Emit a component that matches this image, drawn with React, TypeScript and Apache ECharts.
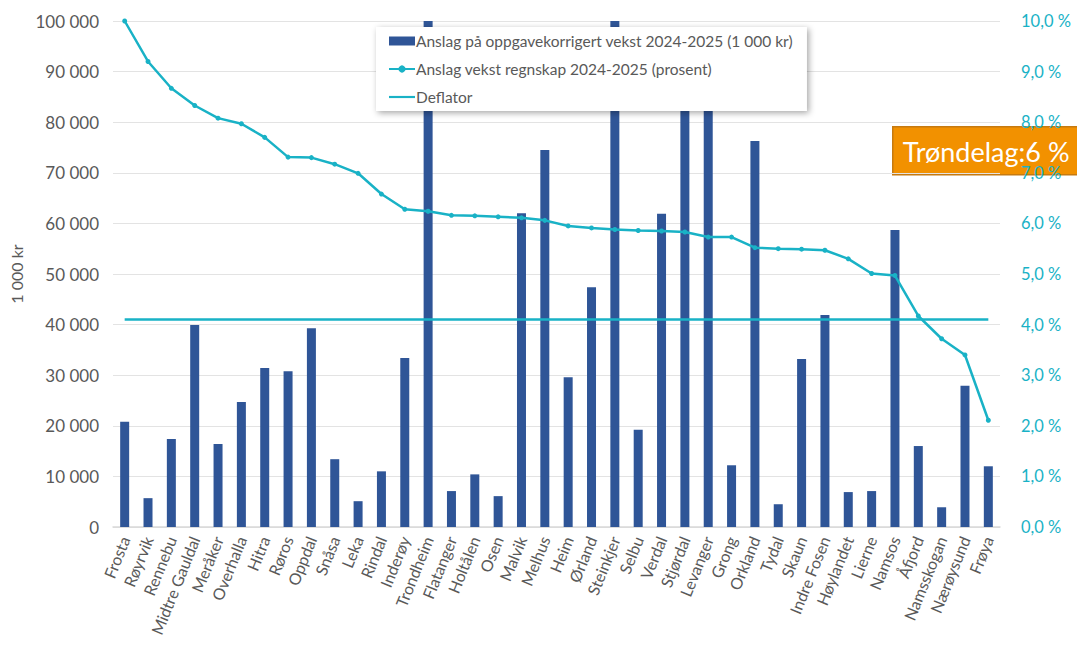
import React, { useEffect, useRef } from "react";
import * as echarts from "echarts";

const categories = [
  "Frosta", "Røyrvik", "Rennebu", "Midtre Gauldal", "Meråker", "Overhalla", "Hitra", "Røros",
  "Oppdal", "Snåsa", "Leka", "Rindal", "Inderøy", "Trondheim", "Flatanger", "Holtålen", "Osen",
  "Malvik", "Melhus", "Heim", "Ørland", "Steinkjer", "Selbu", "Verdal", "Stjørdal", "Levanger",
  "Grong", "Orkland", "Tydal", "Skaun", "Indre Fosen", "Høylandet", "Lierne", "Namsos", "Åfjord",
  "Namsskogan", "Nærøysund", "Frøya",
];

const barValues = [
  20800, 5700, 17400, 39900, 16400, 24700, 31400, 30800,
  39300, 13400, 5100, 11000, 33400, 400000, 7100, 10400, 6100,
  62000, 74500, 29600, 47400, 101000, 19200, 61900, 95000, 92000,
  12200, 76300, 4500, 33200, 41900, 6900, 7100, 58700, 16000,
  3900, 27900, 12000,
];

const growthPct = [
  10.0, 9.2, 8.67, 8.33, 8.08, 7.97, 7.7, 7.31,
  7.3, 7.17, 6.99, 6.58, 6.28, 6.24, 6.16, 6.15, 6.13,
  6.11, 6.06, 5.95, 5.91, 5.88, 5.86, 5.85, 5.83, 5.73,
  5.73, 5.52, 5.5, 5.49, 5.47, 5.3, 5.01, 4.97, 4.17,
  3.72, 3.4, 2.11,
];

const deflator = 4.1;
const seriesNames = [
  "Anslag på oppgavekorrigert vekst 2024-2025 (1 000 kr)",
  "Anslag vekst regnskap 2024-2025 (prosent)",
  "Deflator",
];
const regionLabel = "Trøndelag:6 %";

const FONT = "Lato, 'Open Sans', sans-serif";
const BAR = "#2F5597";
const CYAN = "#19B2C6";
const GRAY = "#595959";

export default function App() {
  const ref = useRef<HTMLDivElement>(null);
  useEffect(() => {
    if (!ref.current) return;
    const chart = echarts.init(ref.current, null, { renderer: "svg" });
    const fmtK = (v: number) => String(v).replace(/\B(?=(\d{3})+(?!\d))/g, " ");
    chart.setOption({
      animation: false,
      textStyle: { fontFamily: FONT },
      grid: { left: 113, right: 77, top: 21, bottom: 123 },
      legend: {
        orient: "vertical",
        left: 376,
        top: 27,
        padding: [6, 14, 6, 12],
        itemGap: 12,
        itemWidth: 26,
        itemHeight: 9,
        backgroundColor: "#fff",
        shadowBlur: 6,
        shadowColor: "rgba(0,0,0,0.35)",
        shadowOffsetX: 2,
        shadowOffsetY: 2,
        textStyle: { color: GRAY, fontSize: 15.5, fontFamily: FONT, padding: [0, 0, 0, -4] },
        data: [
          { name: seriesNames[0], icon: "rect" },
          { name: seriesNames[1] },
          { name: seriesNames[2], icon: "path://M0,4 L24,4 L24,6 L0,6 Z" },
        ],
      },
      xAxis: {
        type: "category",
        data: categories,
        axisLine: { lineStyle: { color: "#D9D9D9", width: 1.5 } },
        axisTick: { show: false },
        axisLabel: {
          interval: 0,
          rotate: 68,
          color: GRAY,
          fontSize: 16,
          fontFamily: FONT,
          margin: 10,
        },
      },
      yAxis: [
        {
          type: "value",
          min: 0,
          max: 100000,
          interval: 10000,
          name: "1 000 kr",
          nameLocation: "middle",
          nameGap: 88,
          nameTextStyle: { color: GRAY, fontSize: 16, fontFamily: FONT },
          axisLabel: { color: GRAY, fontSize: 17, fontFamily: FONT, formatter: fmtK, margin: 14 },
          splitLine: { lineStyle: { color: "#E3E3E3", width: 1.2 } },
          axisLine: { show: false },
          axisTick: { show: false },
        },
        {
          type: "value",
          min: 0,
          max: 10,
          interval: 1,
          position: "right",
          axisLabel: {
            color: CYAN,
            fontSize: 16.5,
            fontFamily: FONT,
            margin: 21,
            formatter: (v: number) => v.toFixed(1).replace(".", ",") + " %",
          },
          splitLine: { show: false },
          axisLine: { show: false },
          axisTick: { show: false },
        },
      ],
      series: [
        {
          name: seriesNames[0],
          type: "bar",
          data: barValues,
          barWidth: 9,
          clip: true,
          itemStyle: { color: BAR },
          z: 1,
        },
        {
          name: seriesNames[1],
          type: "line",
          yAxisIndex: 1,
          data: growthPct,
          symbol: "circle",
          symbolSize: 5,
          lineStyle: { color: CYAN, width: 2.5 },
          itemStyle: { color: CYAN },
          z: 3,
        },
        {
          name: seriesNames[2],
          type: "line",
          yAxisIndex: 1,
          data: categories.map(() => deflator),
          symbol: "none",
          lineStyle: { color: CYAN, width: 2.5 },
          itemStyle: { color: CYAN },
          z: 2,
        },
      ],
      graphic: [
        {
          type: "group",
          left: 892,
          top: 126,
          z: 100,
          children: [
            {
              type: "rect",
              shape: { x: 0, y: 0, width: 190, height: 48 },
              style: { fill: "#F29100", stroke: "#C67A10", lineWidth: 1.5 },
            },
            {
              type: "text",
              x: 10,
              y: 25,
              style: {
                text: regionLabel,
                fill: "#fff",
                fontSize: 27,
                fontFamily: FONT,
                verticalAlign: "middle",
              },
            },
          ],
        },
      ],
    });
    return () => chart.dispose();
  }, []);
  return <div ref={ref} style={{ width: 1077, height: 650, position: "absolute", left: 0, top: 0 }} />;
}
